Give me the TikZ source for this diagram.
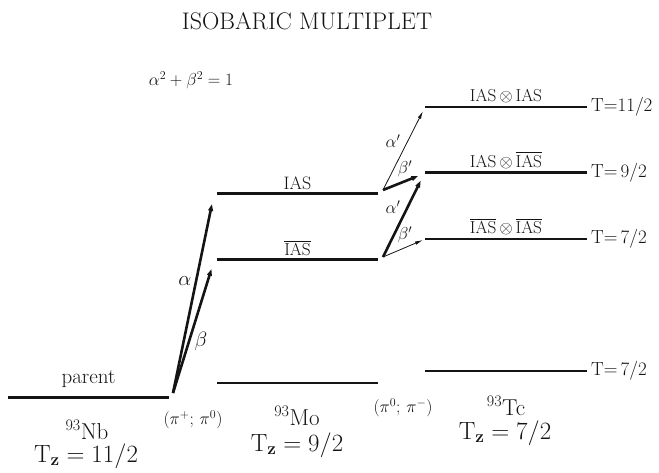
\documentclass[tikz,border=0pt]{standalone}
\usepackage{amsmath}
\usetikzlibrary{positioning, arrows.meta}
\definecolor{ink}{HTML}{141414}
\newcommand{\HeadF}{\fontsize{24}{28}\selectfont}
\newcommand{\LevelF}{\fontsize{18}{21}\selectfont}
\newcommand{\NucF}{\fontsize{23}{27}\selectfont}
\newcommand{\ChanF}{\fontsize{17}{20}\selectfont}
\newcommand{\IASbar}{\overline{\mathrm{IAS}}}

\begin{document}
\begin{tikzpicture}[x=1pt, y=-1pt, ink,
    lvl/.style={draw=ink, line width=1.3pt},
    lvlbold/.style={draw=ink, line width=3pt},
    lab/.style={font=\LevelF, inner sep=2pt, above=1pt},
    big/.style={-{Latex[length=12pt, width=5pt]}, line width=2.6pt},
    small/.style={-{Latex[length=8pt, width=3.5pt]}, line width=0.8pt},
    tag/.style={font=\fontsize{19}{22}\selectfont, inner sep=1pt},
    nuc/.style={font=\NucF, inner sep=0pt}]
  \useasboundingbox (0,0) rectangle (659,473);

  % level ends
  \coordinate (parL) at (8,397);    \coordinate (parR) at (169,397);
  \coordinate (moaL) at (217,194);  \coordinate (moaR) at (378,194);
  \coordinate (mobL) at (217,260);  \coordinate (mobR) at (378,260);
  \coordinate (mocL) at (217,383);  \coordinate (mocR) at (378,383);
  \coordinate (tcaL) at (425,107);  \coordinate (tcaR) at (587,107);
  \coordinate (tcbL) at (425,173);  \coordinate (tcbR) at (587,173);
  \coordinate (tccL) at (425,239);  \coordinate (tccR) at (587,239);
  \coordinate (tcdL) at (425,371);  \coordinate (tcdR) at (587,371);

  % arrow origins
  \coordinate (nbOut) at (173,393);
  \coordinate (moaOut) at (383,190);
  \coordinate (mobOut) at (383,257);

  \node[font=\HeadF] (head) at (307,21) {ISOBARIC MULTIPLET};
  \node[font=\ChanF] (norm) at (191,80) {$\alpha^{2} + \beta^{2} = 1$};

  % levels
  \draw[lvlbold] (parL) -- node[font=\fontsize{21}{24}\selectfont, above=5pt] (par) {parent} (parR);
  \draw[lvlbold] (moaL) -- node[lab] (ias) {IAS} (moaR);
  \draw[lvlbold] (mobL) -- node[lab] (iasb) {$\IASbar$} (mobR);
  \draw[lvl] (mocL) -- (mocR);
  \draw[lvl] (tcaL) -- node[lab] (ii) {$\mathrm{IAS}\,{\otimes}\,\mathrm{IAS}$} (tcaR);
  \draw[lvlbold] (tcbL) -- node[lab] (iib) {$\mathrm{IAS}\,{\otimes}\,\IASbar$} (tcbR);
  \draw[lvl] (tccL) -- node[lab] (ibib) {$\IASbar\,{\otimes}\,\IASbar$} (tccR);
  \draw[lvl] (tcdL) -- (tcdR);

  \node[tag, right=3pt of tcaR] (tA) {T=11/2};
  \node[tag, right=3pt of tcbR] (tB) {T=\,9/2};
  \node[tag, right=3pt of tccR] (tC) {T=\,7/2};
  \node[tag, right=3pt of tcdR] (tD) {T=\,7/2};

  % transitions
  \draw[big] (nbOut) -- (213,199);
  \draw[big] (nbOut) -- (213,264);
  \node[font=\fontsize{21}{24}\selectfont] (al) at (185,281) {$\alpha$};
  \node[font=\fontsize{21}{24}\selectfont] (be) at (201,341) {$\beta$};

  \draw[small] (moaOut) -- (423,111);
  \draw[big] (moaOut) -- (423,174);
  \draw[big] (mobOut) -- (423,176);
  \draw[small] (mobOut) -- (423,240);
  \node[font=\ChanF] (al1) at (393,141) {$\alpha'$};
  \node[font=\ChanF] (be1) at (405,169) {$\beta'$};
  \node[font=\ChanF] (al2) at (393,207) {$\alpha'$};
  \node[font=\ChanF] (be2) at (405,235) {$\beta'$};

  % nuclei
  \node[font=\ChanF, inner sep=0pt] (ch1) at (193,420) {$(\pi^{+};\,\pi^{0})$};
  \node[font=\ChanF, inner sep=0pt] (ch2) at (403,408) {$(\pi^{0};\,\pi^{-})$};
  \node[nuc] (nb) at (87,430) {\textsuperscript{93}Nb};
  \node[nuc] (nbT) at (86,456) {$\mathrm{T}_{\mathbf{z}} = 11/2$};
  \node[nuc] (mo) at (297,416) {\textsuperscript{93}Mo};
  \node[nuc] (moT) at (297,445) {$\mathrm{T}_{\mathbf{z}} = 9/2$};
  \node[nuc] (tcN) at (506,406) {\textsuperscript{93}Tc};
  \node[nuc] (tcT) at (505,433) {$\mathrm{T}_{\mathbf{z}} = 7/2$};
\end{tikzpicture}
\end{document}
